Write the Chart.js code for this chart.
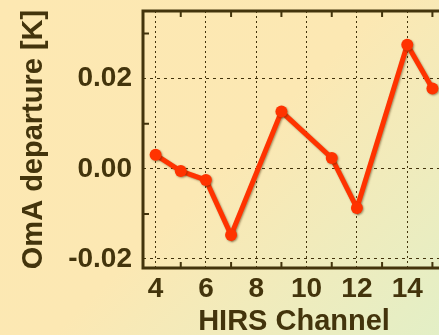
<!DOCTYPE html>
<html><head><meta charset="utf-8">
<script src="https://cdn.jsdelivr.net/npm/chart.js@4.4.1/dist/chart.umd.min.js"></script>
<style>
html,body{margin:0;padding:0;overflow:hidden;width:439px;height:335px;}
body{background:linear-gradient(135deg,#fde8b2 0%,#fce8b3 50%,#e3efc6 100%);}
#wrap{width:452px;height:335px;}
</style></head><body>
<div id="wrap"><canvas id="c" width="452" height="335"></canvas></div>
<script>
const channels = [4, 5, 6, 7, 9, 11, 12, 14, 15];
const omaDeparture = [0.0031, -0.0005, -0.0025, -0.0147, 0.0127, 0.0024, -0.0087, 0.0275, 0.0178];
const xTicks = [4, 5, 6, 7, 8, 9, 10, 11, 12, 13, 14, 15];
const xLabels = [4, 6, 8, 10, 12, 14];
const yTicks = [-0.02, -0.01, 0, 0.01, 0.02, 0.03];
const yLabels = [-0.02, 0, 0.02];

const INK = '#43340c';
const LINE = '#ff3300';
const isIn = (arr, v) => arr.some(a => Math.abs(a - v) < 1e-9);

const framePlugin = {
  id: 'frame',
  beforeDatasetsDraw(chart) {
    const ctx = chart.ctx;
    ctx.save();
    ctx.shadowColor = 'rgba(70,40,0,0.45)';
    ctx.shadowOffsetX = 1;
    ctx.shadowOffsetY = 1;
    ctx.shadowBlur = 2;
  },
  afterDatasetsDraw(chart) {
    const ctx = chart.ctx;
    ctx.restore();
    const {left, right, top, bottom} = chart.chartArea;
    const xs = chart.scales.x, ys = chart.scales.y;
    ctx.save();
    ctx.strokeStyle = INK;
    ctx.lineWidth = 2;
    ctx.setLineDash([]);
    xTicks.forEach(v => {
      if (isIn(xLabels, v)) return;
      const px = xs.getPixelForValue(v);
      ctx.beginPath();
      ctx.moveTo(px, top); ctx.lineTo(px, top + 6);
      ctx.moveTo(px, bottom); ctx.lineTo(px, bottom - 6);
      ctx.stroke();
    });
    yTicks.forEach(v => {
      if (isIn(yLabels, v)) return;
      const py = ys.getPixelForValue(v);
      ctx.beginPath();
      ctx.moveTo(left, py); ctx.lineTo(left + 6, py);
      ctx.moveTo(right, py); ctx.lineTo(right - 6, py);
      ctx.stroke();
    });
    ctx.lineWidth = 3;
    ctx.strokeRect(left, top, right - left, bottom - top);
    ctx.restore();
  }
};

const zeroPad = s => { s.paddingTop = 0; s.paddingBottom = 0; s.paddingLeft = 0; s.paddingRight = 0; };

new Chart(document.getElementById('c'), {
  type: 'line',
  data: {
    datasets: [{
      data: channels.map((c, i) => ({x: c, y: omaDeparture[i]})),
      borderColor: LINE,
      backgroundColor: LINE,
      borderWidth: 5,
      pointRadius: 6,
      pointBackgroundColor: LINE,
      pointBorderColor: LINE,
      pointBorderWidth: 0,
      tension: 0,
      fill: false
    }]
  },
  options: {
    responsive: false,
    animation: false,
    layout: {padding: {left: 0, top: 11, right: 7, bottom: 0}},
    plugins: {legend: {display: false}, tooltip: {enabled: false}},
    scales: {
      x: {
        type: 'linear',
        min: 3.5, max: 15.5,
        afterBuildTicks: s => { s.ticks = xTicks.map(v => ({value: v})); },
        afterFit: s => { s.height = 67; zeroPad(s); },
        grid: {
          drawTicks: false,
          lineWidth: 1,
          color: c => (c.tick && isIn(xLabels, c.tick.value)) ? INK : 'rgba(0,0,0,0)'
        },
        border: {display: false, dash: [2, 3]},
        ticks: {
          autoSkip: false, maxRotation: 0, padding: 4, color: INK,
          font: {family: 'Liberation Sans', weight: 'bold', size: 28},
          callback: v => isIn(xLabels, v) ? String(v) : ''
        },
        title: {
          display: true, text: 'HIRS Channel', color: INK,
          font: {family: 'Liberation Sans', weight: 'bold', size: 29, lineHeight: 0.9},
          padding: {top: 0, bottom: 0}
        }
      },
      y: {
        type: 'linear',
        min: -0.022, max: 0.035,
        afterBuildTicks: s => { s.ticks = yTicks.map(v => ({value: v})); },
        afterFit: s => { s.width = 143; zeroPad(s); },
        grid: {
          drawTicks: false,
          lineWidth: 1,
          color: c => (c.tick && isIn(yLabels, c.tick.value)) ? INK : 'rgba(0,0,0,0)'
        },
        border: {display: false, dash: [3, 4]},
        ticks: {
          padding: 11, color: INK,
          font: {family: 'Liberation Sans', weight: 'bold', size: 28},
          callback: v => isIn(yLabels, v) ? v.toFixed(2) : ''
        },
        title: {
          display: true, text: 'OmA departure [K]', color: INK,
          font: {family: 'Liberation Sans', weight: 'bold', size: 29},
          padding: {top: 17, bottom: 0}
        }
      }
    }
  },
  plugins: [framePlugin]
});
</script>
</body></html>
